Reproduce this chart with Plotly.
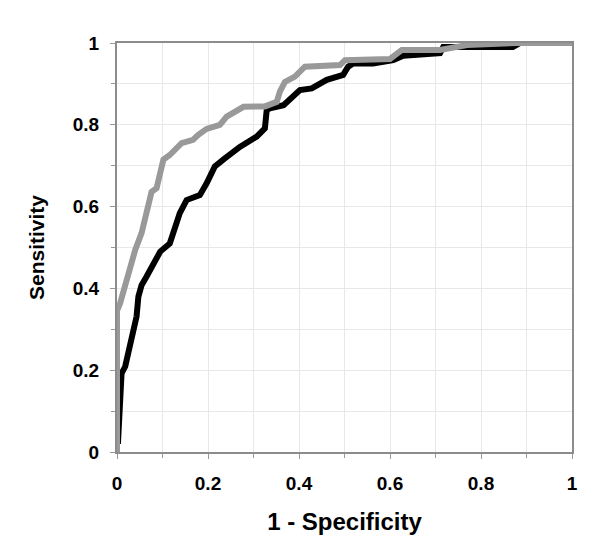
import plotly.graph_objects as go

# Gray ROC curve
gray_x = [0, 0, 0.007, 0.018, 0.029, 0.04, 0.054, 0.065, 0.076, 0.087, 0.098, 0.102, 0.116, 0.13,
          0.142, 0.167, 0.178, 0.197, 0.226, 0.241, 0.266, 0.278, 0.325, 0.351, 0.358, 0.369,
          0.391, 0.413, 0.49, 0.501, 0.60, 0.626, 0.71, 0.769, 0.878, 1.0]
gray_y = [0, 0.345, 0.364, 0.408, 0.445, 0.494, 0.535, 0.592, 0.636, 0.645, 0.69, 0.715, 0.726, 0.74,
          0.755, 0.763, 0.775, 0.79, 0.80, 0.82, 0.836, 0.844, 0.845, 0.856, 0.881, 0.905,
          0.918, 0.942, 0.946, 0.958, 0.961, 0.983, 0.983, 0.995, 1.0, 1.0]

# Black ROC curve
black_x = [0.002, 0.003, 0.007, 0.01, 0.018, 0.029, 0.043, 0.047, 0.054, 0.065, 0.08, 0.095, 0.116,
           0.127, 0.138, 0.153, 0.182, 0.197, 0.215, 0.237, 0.270, 0.307, 0.325, 0.329, 0.336,
           0.366, 0.384, 0.402, 0.428, 0.461, 0.497, 0.508, 0.519, 0.563, 0.607, 0.629, 0.71,
           0.717, 0.87, 0.886, 1.0]
black_y = [0.02, 0.037, 0.135, 0.192, 0.209, 0.266, 0.331, 0.38, 0.408, 0.429, 0.461, 0.49, 0.51,
           0.547, 0.584, 0.616, 0.628, 0.657, 0.698, 0.718, 0.746, 0.771, 0.791, 0.836, 0.84,
           0.848, 0.865, 0.885, 0.889, 0.91, 0.922, 0.942, 0.95, 0.95, 0.958, 0.969, 0.975,
           0.99, 0.99, 1.0, 1.0]

tick_vals = [0, 0.2, 0.4, 0.6, 0.8, 1]
tick_text = ["0", "0.2", "0.4", "0.6", "0.8", "1"]

fig = go.Figure()
fig.add_trace(go.Scatter(x=black_x, y=black_y, mode="lines",
                         line=dict(color="#000000", width=6), showlegend=False))
fig.add_trace(go.Scatter(x=gray_x, y=gray_y, mode="lines",
                         line=dict(color="#999999", width=6), showlegend=False))

font_family = "Liberation Sans, Arial, sans-serif"
axis_common = dict(
    range=[0, 1], tickvals=tick_vals, ticktext=tick_text,
    showgrid=True, gridcolor="#e8e8e8", gridwidth=1,
    minor=dict(dtick=0.1, showgrid=True, gridcolor="#e8e8e8", ticks="outside",
               ticklen=4, tickcolor="#999999"),
    showline=True, linecolor="#8c8c8c", linewidth=2, mirror=True,
    ticks="outside", ticklen=5, tickcolor="#999999",
    tickfont=dict(family=font_family, size=19, color="#000000", weight="bold"),
    zeroline=False, fixedrange=True, automargin=False,
)

fig.update_layout(
    width=600, height=550,
    margin=dict(l=109, r=36, t=35, b=106),
    plot_bgcolor="white", paper_bgcolor="white",
    xaxis=dict(**axis_common, ticklabelstandoff=8,
               title=dict(text="<b>1 - Specificity</b>", standoff=20,
                          font=dict(family=font_family, size=24, color="#000000"))),
    yaxis=dict(**axis_common, ticklabelstandoff=7,
               title=dict(text="<b>Sensitivity</b>", standoff=22,
                          font=dict(family=font_family, size=21, color="#000000"))),
)

fig.write_html("out.html")
